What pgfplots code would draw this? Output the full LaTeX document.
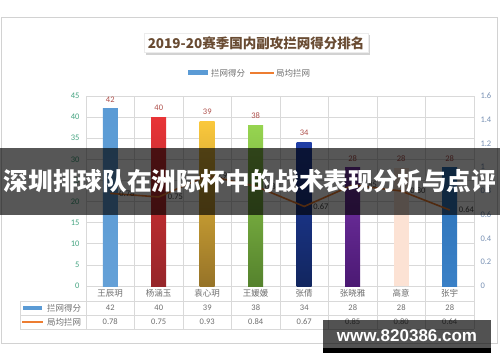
\documentclass[border=0pt]{standalone}
\usepackage{pgfplots}
\pgfplotsset{compat=1.18}
\usepackage{fontspec}
\setmainfont{Carlito}
\newfontfamily\cjk{Noto Sans CJK SC}
\newfontfamily\wm{Liberation Sans}
\usetikzlibrary{shadows}
\definecolor{gridgray}{RGB}{217,217,217}
\definecolor{framegray}{RGB}{210,210,210}
\definecolor{txtgray}{RGB}{110,110,110}
\definecolor{leftteal}{RGB}{70,165,130}
\definecolor{rightblue}{RGB}{120,145,180}
\definecolor{labelred}{RGB}{175,80,75}
\definecolor{titlebrown}{RGB}{105,75,50}
\definecolor{lineorange}{RGB}{237,125,49}
\definecolor{legblue}{RGB}{91,155,213}
\begin{document}
\begin{tikzpicture}[x=1pt,y=1pt]
\fill[white] (0,0) rectangle (500,362);
\draw[framegray] (1,19) rectangle (497,345);
% title
\node[fill=white, draw=gray!15, drop shadow={shadow xshift=2pt, shadow yshift=-2pt, opacity=0.35}, inner xsep=4pt, inner ysep=3pt, font=\cjk\bfseries\fontsize{13.5}{15}\selectfont, text=titlebrown] at (256,319) {2019-20赛季国内副攻拦网得分排名};
% legend
\fill[legblue] (188,287) rectangle (208,291.5);
\node[anchor=west, inner sep=1pt, font=\cjk\fontsize{8.5}{9}\selectfont, text=txtgray] at (210,289) {拦网得分};
\draw[lineorange, line width=1.6pt] (250,289) -- (274,289);
\node[anchor=west, inner sep=1pt, font=\cjk\fontsize{8.5}{9}\selectfont, text=txtgray] at (275,289) {局均拦网};

\begin{axis}[at={(86pt,76pt)}, anchor=south west, scale only axis, width=388pt, height=190pt,
  xmin=-0.5, xmax=7.5, ymin=0, ymax=45, ytick={0,5,...,45},
  xtick={0,...,7}, xticklabels={王辰玥,杨涵玉,袁心玥,王媛媛,张倩,张晓雅,高意,张宇},
  xticklabel style={font=\cjk\fontsize{8.5}{9}\selectfont, text=txtgray},
  minor xtick={-0.5,0.5,...,7.5}, xminorgrids, ymajorgrids,
  grid style={gridgray, line width=0.6pt}, minor grid style={gridgray, line width=0.6pt},
  axis line style={gridgray, line width=0.6pt},
  major tick length=0pt, minor tick length=0pt,
  yticklabel style={text=leftteal, font=\fontsize{8.5}{9}\selectfont, xshift=-3pt},
  /pgf/number format/assume math mode=true, clip=false,
  every node near coord/.append style={font=\fontsize{8.5}{9}\selectfont, text=labelred, yshift=3pt}]
\addplot[ybar, bar width=15pt, draw=none, top color={rgb,255:red,91;green,155;blue,213}, bottom color={rgb,255:red,100;green,160;blue,215}, nodes near coords] coordinates {(0,42)};
\addplot[ybar, bar width=15pt, draw=none, top color={rgb,255:red,232;green,52;blue,55}, bottom color={rgb,255:red,150;green,38;blue,42}, nodes near coords] coordinates {(1,40)};
\addplot[ybar, bar width=15pt, draw=none, top color={rgb,255:red,250;green,200;blue,60}, bottom color={rgb,255:red,150;green,115;blue,40}, nodes near coords] coordinates {(2,39)};
\addplot[ybar, bar width=15pt, draw=none, top color={rgb,255:red,150;green,212;blue,80}, bottom color={rgb,255:red,85;green,130;blue,45}, nodes near coords] coordinates {(3,38)};
\addplot[ybar, bar width=15pt, draw=none, top color={rgb,255:red,32;green,62;blue,165}, bottom color={rgb,255:red,18;green,38;blue,95}, nodes near coords] coordinates {(4,34)};
\addplot[ybar, bar width=15pt, draw=none, top color={rgb,255:red,118;green,52;blue,168}, bottom color={rgb,255:red,75;green,25;blue,115}, nodes near coords] coordinates {(5,28)};
\addplot[ybar, bar width=15pt, draw=none, fill={rgb,255:red,252;green,226;blue,212}, nodes near coords] coordinates {(6,28)};
\addplot[ybar, bar width=15pt, draw=none, top color={rgb,255:red,45;green,115;blue,185}, bottom color={rgb,255:red,58;green,128;blue,198}, nodes near coords] coordinates {(7,28)};
\end{axis}

\begin{axis}[at={(86pt,76pt)}, anchor=south west, scale only axis, width=388pt, height=190pt,
  xmin=-0.5, xmax=7.5, ymin=0, ymax=1.6, ytick={0,0.2,...,1.6},
  axis y line*=right, axis x line=none, axis line style={gridgray, line width=0.6pt},
  major tick length=0pt,
  yticklabel style={text=rightblue, font=\fontsize{8.5}{9}\selectfont, xshift=3pt},
  /pgf/number format/assume math mode=true, clip=false]
\addplot[lineorange, line width=1.6pt, mark=none, nodes near coords,
  every node near coord/.append style={anchor=west, xshift=5pt, font=\fontsize{8.5}{9}\selectfont, text={rgb,255:red,70;green,70;blue,70}, /pgf/number format/fixed, /pgf/number format/precision=2, /pgf/number format/fixed zerofill}]
  coordinates {(0,0.78) (1,0.75) (2,0.93) (3,0.84) (4,0.67) (5,0.85) (6,0.80) (7,0.64)};
\end{axis}

% data table
\foreach \k in {0,...,8} \draw[gridgray, line width=0.6pt] ({86+48.5*\k},76) -- ({86+48.5*\k},33);
\foreach \yy in {61,47,33} \draw[gridgray, line width=0.6pt] (20,\yy) -- (474,\yy);
\draw[gridgray, line width=0.6pt] (20,61) -- (20,33);
\fill[legblue] (23,52) rectangle (42,56);
\node[anchor=west, inner sep=1pt, font=\cjk\fontsize{8.5}{9}\selectfont, text=txtgray] at (46,54) {拦网得分};
\draw[lineorange, line width=1.6pt] (22,40) -- (43,40);
\node[anchor=west, inner sep=1pt, font=\cjk\fontsize{8.5}{9}\selectfont, text=txtgray] at (46,40) {局均拦网};
\foreach \v [count=\i from 0] in {42,40,39,38,34,28,28,28}
  \node[font=\fontsize{8.5}{9}\selectfont, text=txtgray] at ({86+48.5*(\i+0.5)},54) {\v};
\foreach \v [count=\i from 0] in {0.78,0.75,0.93,0.84,0.67,0.85,0.80,0.64}
  \node[font=\fontsize{8.5}{9}\selectfont, text=txtgray] at ({86+48.5*(\i+0.5)},40) {\v};

% banner overlay
\fill[black, opacity=0.66] (0,147) rectangle (500,214);
\node[text=white, font=\cjk\bfseries\fontsize{24.6}{26}\selectfont, inner sep=0pt] at (250,180.5) {深圳排球队在洲际杯中的战术表现分析与点评};
% watermark
\fill[black, opacity=0.68] (323,14) rectangle (491,42);
\fill[black] (323,9) rectangle (491,14);
\node[text=white, font=\wm\bfseries\fontsize{17}{18}\selectfont, inner sep=0pt] at (407,26) {www.820386.com};
\end{tikzpicture}
\end{document}
